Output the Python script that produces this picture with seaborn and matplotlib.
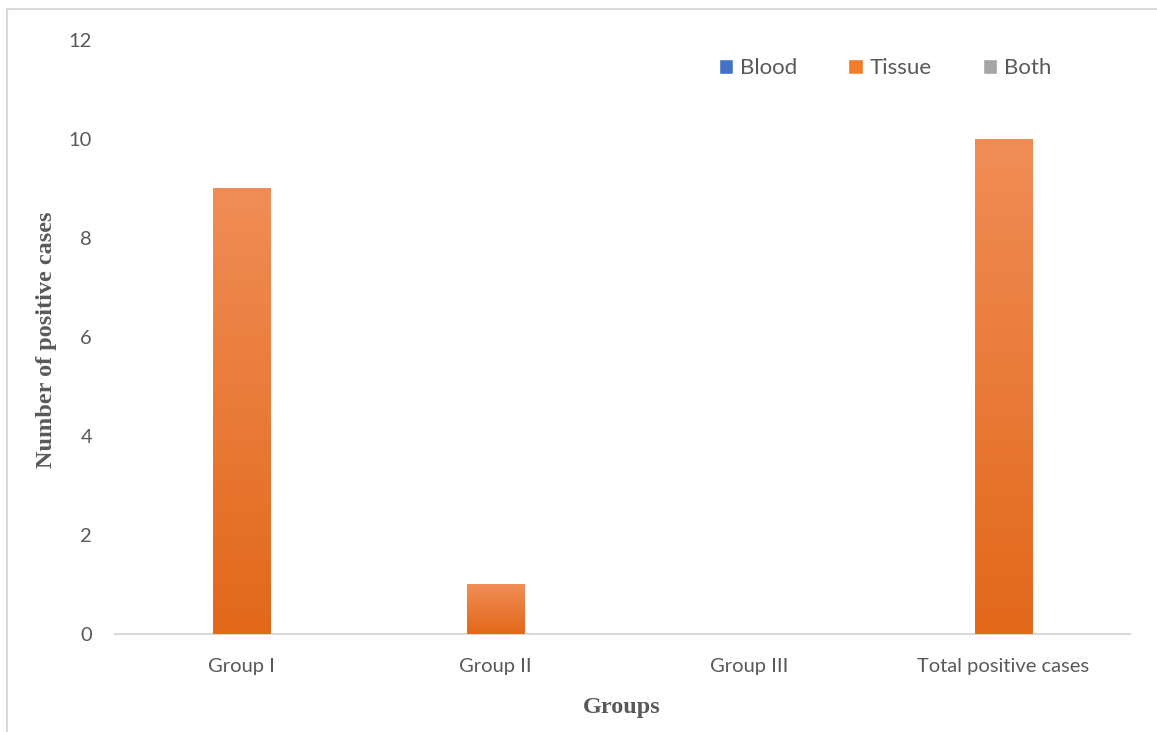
import numpy as np
import pandas as pd
import matplotlib
matplotlib.use("Agg")
import matplotlib.pyplot as plt
import matplotlib.patheffects as pe
from matplotlib.colors import LinearSegmentedColormap
from matplotlib.patches import Rectangle, Patch
import seaborn as sns

categories = ["Group I", "Group II", "Group III", "Total positive cases"]
series = ["Blood", "Tissue", "Both"]
blood = [0, 0, 0, 0]
tissue = [9, 1, 0, 10]
both = [0, 0, 0, 0]
yticks = [0, 2, 4, 6, 8, 10, 12]

colors = {"Blood": "#4472C4", "Tissue": "#F27B2C", "Both": "#A5A5A5"}
grad = {
    "Blood": ("#2F5FB5", "#5585D6"),
    "Tissue": ("#E2681A", "#F08D57"),
    "Both": ("#939393", "#B5B5B5"),
}

df = pd.DataFrame({
    "Group": categories * 3,
    "Series": ["Blood"] * 4 + ["Tissue"] * 4 + ["Both"] * 4,
    "Value": blood + tissue + both,
})

sns.set_style("white")
fig = plt.figure(figsize=(11.57, 7.32), dpi=100)
ax = fig.add_axes([0.0994, 0.1339, 0.8773, 0.8115])

sns.barplot(data=df, x="Group", y="Value", hue="Series", hue_order=series,
            palette=colors, width=0.675, ax=ax, legend=False, saturation=1)

ax.set_ylim(0, 12)
ax.set_xlim(-0.5, 3.5)
ax.set_yticks(yticks)

# gradients on bars
for container, s in zip(ax.containers, series):
    lo, hi = grad[s]
    cmap = LinearSegmentedColormap.from_list(s, [lo, hi])
    for bar in container:
        h = bar.get_height()
        if h <= 0:
            bar.set_visible(False)
            continue
        x0 = bar.get_x(); w = bar.get_width()
        bar.set_edgecolor("none")
        bar.set_path_effects([pe.SimplePatchShadow(offset=(0, -1.5), shadow_rgbFace="#888888", alpha=0.35), pe.Normal()])
        img = ax.imshow(np.linspace(0, 1, 256).reshape(-1, 1), cmap=cmap,
                        extent=[x0, x0 + w, 0, h], origin="lower",
                        aspect="auto", zorder=bar.get_zorder() + 0.1)
        img.set_clip_path(bar)

ax.set_xlim(-0.5, 3.5)
ax.set_ylim(0, 12)

for sp in ["top", "right", "left"]:
    ax.spines[sp].set_visible(False)
ax.spines["bottom"].set_color("#D9D9D9")
ax.spines["bottom"].set_linewidth(1.5)
ax.spines["bottom"].set_zorder(0.5)

ax.tick_params(axis="both", length=0, labelsize=14.5, labelcolor="#595959")
ax.tick_params(axis="y", pad=16.5)
ax.tick_params(axis="x", pad=17)
for lbl in ax.get_xticklabels() + ax.get_yticklabels():
    lbl.set_fontfamily("Lato")

ax.set_xlabel("")
ax.set_ylabel("")
fig.text(622 / 1157, 1 - 707 / 732, "Groups", fontsize=17.5, fontweight="bold",
         family="Liberation Serif", color="#595959", ha="center", va="center")
fig.text(47 / 1157, 1 - 340 / 732, "Number of positive cases", fontsize=17.5,
         fontweight="bold", family="Liberation Serif", color="#595959",
         ha="center", va="center", rotation=90)

handles = [Patch(facecolor=colors[s], label=s) for s in series]
leg = fig.legend(handles=handles, loc="center", bbox_to_anchor=(885 / 1157, 1 - 68 / 732),
                 ncol=3, frameon=False, handlelength=0.65, handleheight=0.65,
                 handletextpad=0.3, columnspacing=2.3,
                 prop={"family": "Lato", "size": 16})
for t in leg.get_texts():
    t.set_color("#595959")

# outer border (top and left visible)
fig.patches.append(Rectangle((7 / 1157, -0.1), 1.2, 1.1 - 9 / 732,
                             transform=fig.transFigure, fill=False,
                             edgecolor="#D9D9D9", linewidth=1.5))

fig.savefig("out.png", dpi=100)
